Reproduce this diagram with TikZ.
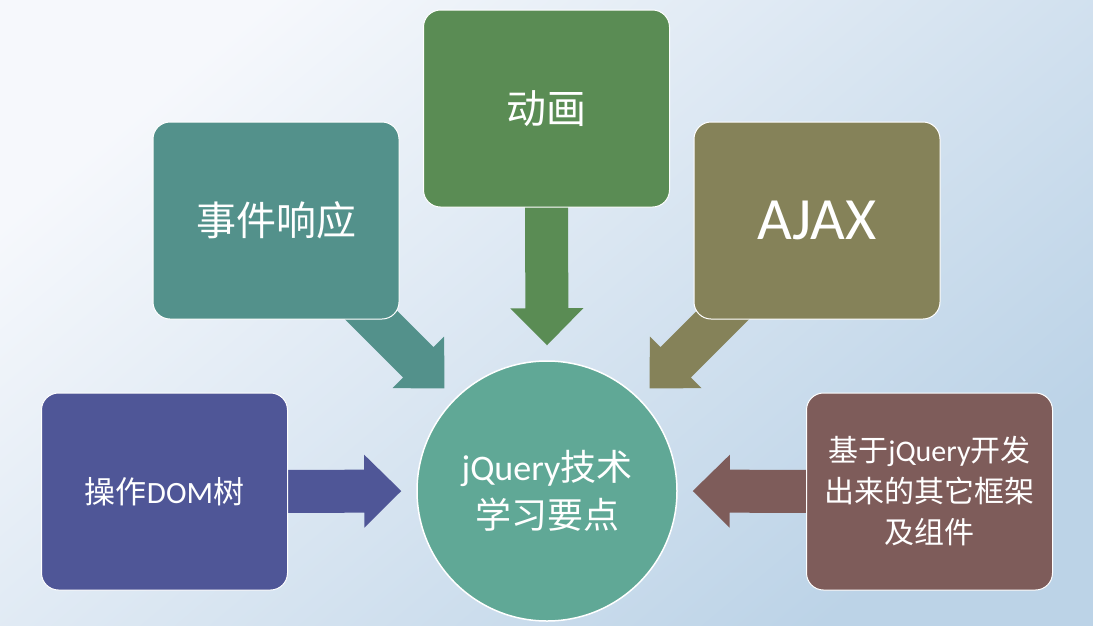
\documentclass[tikz,border=0pt]{standalone}
\usepackage{fontspec}
\setmainfont{Carlito}
\newfontfamily\cjk{Noto Sans CJK SC}
\usetikzlibrary{calc}
\pgfdeclarelayer{bg}
\pgfdeclarelayer{arr}
\pgfsetlayers{bg,arr,main}
\definecolor{domc}{RGB}{79,86,151}
\definecolor{evtc}{RGB}{83,145,139}
\definecolor{animc}{RGB}{90,140,84}
\definecolor{ajaxc}{RGB}{133,130,89}
\definecolor{fwc}{RGB}{126,92,90}
\definecolor{circc}{RGB}{96,168,150}
\definecolor{bgA}{RGB}{246,248,252}
\definecolor{bgM}{RGB}{226,235,244}
\definecolor{bgB}{RGB}{188,211,231}
\tikzset{
  box/.style={draw=white, line width=1pt, rounded corners=17pt,
    minimum width=246pt, minimum height=197pt, inner sep=0pt,
    text=white, align=center},
  hub/.style={circle, draw=white, line width=1.5pt, fill=circc,
    minimum size=260pt, inner sep=0pt, text=white, align=center}
}
\newcommand\blockarrow[3]{%
  \fill[#1] let \p1=($(#3)-(#2)$), \n1={veclen(\x1,\y1)}, \n2={atan2(\y1,\x1)} in
    [shift={(#3)}, rotate=\n2] (0,0) -- (-37,36.5) -- (-37,21.5) -- (-\n1,21.5)
    -- (-\n1,-21.5) -- (-37,-21.5) -- (-37,-36.5) -- cycle;}
\begin{document}
\begin{tikzpicture}[x=1pt,y=-1pt]
\useasboundingbox (0,0) rectangle (1093,625);
\begin{pgfonlayer}{bg}
\shade[top color=bgA, middle color=bgM, bottom color=bgB, shading angle=40] (0,0) rectangle (1093,625);
\end{pgfonlayer}

\node[hub, font=\fontsize{36}{48}\selectfont] (c) at (547,491) {jQuery{\cjk 技术}\\{\cjk 学习要点}};
\node[box, fill=domc, font=\fontsize{31}{38}\selectfont] (dom) at (164.5,491.5) {{\cjk 操作}DOM{\cjk 树}};
\node[box, fill=evtc, font=\fontsize{40}{48}\selectfont\cjk] (evt) at (276,220.5) {事件响应};
\node[box, fill=animc, font=\fontsize{40}{48}\selectfont\cjk] (anim) at (546.5,108.5) {动画};
\node[box, fill=ajaxc, font=\fontsize{60}{70}\selectfont] (ajax) at (817,220.5) {AJAX};
\node[box, fill=fwc, font=\fontsize{30}{41}\selectfont] (fw) at (929.5,491.5)
  {{\cjk 基于}jQuery{\cjk 开发}\\{\cjk 出来的其它框架}\\{\cjk 及组件}};

\coordinate (tW) at ($(c.west)+(-15,0)$);
\coordinate (tN) at ($(c.north)+(0,-15)$);
\coordinate (tE) at ($(c.east)+(15,0)$);
\coordinate (tNW) at ($(c.center)!145pt!(c.north west)$);
\coordinate (tNE) at ($(c.center)!145pt!(c.north east)$);
\coordinate (sDom) at ($(dom.east)+(-5,0)$);
\coordinate (sAnim) at ($(anim.south)+(0,-5)$);
\coordinate (sFw) at ($(fw.west)+(5,0)$);
\coordinate (sEvt) at ($(evt.south east)+(-49,-25)$);
\coordinate (sAjax) at ($(ajax.south west)+(50,-25)$);

\begin{pgfonlayer}{arr}
\blockarrow{domc}{sDom}{tW}
\blockarrow{animc}{sAnim}{tN}
\blockarrow{fwc}{sFw}{tE}
\blockarrow{evtc}{sEvt}{tNW}
\blockarrow{ajaxc}{sAjax}{tNE}
\end{pgfonlayer}
\end{tikzpicture}
\end{document}
